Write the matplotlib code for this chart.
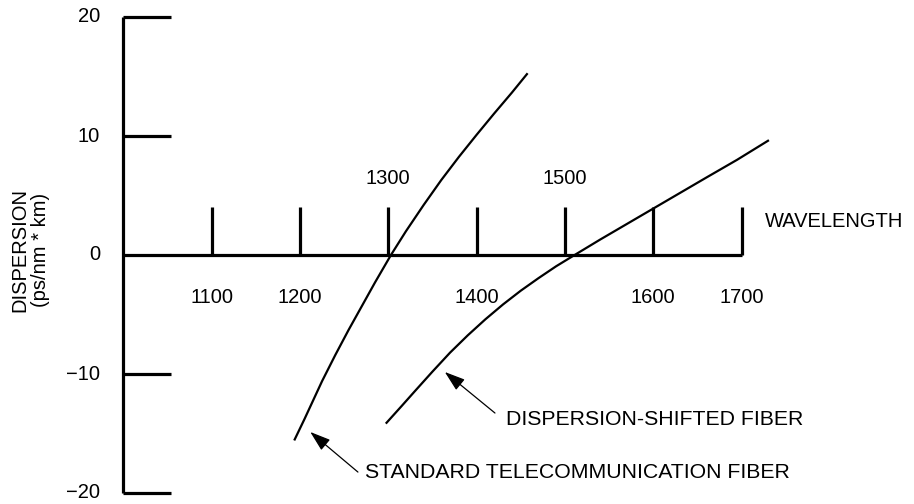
import matplotlib
matplotlib.use("Agg")
import matplotlib.pyplot as plt

plt.rcParams['font.family'] = ['Liberation Sans', 'DejaVu Sans']

# Data
std_wl = [1194, 1205, 1215, 1225, 1240, 1255, 1270, 1285, 1303, 1320, 1340,
          1360, 1380, 1400, 1420, 1440, 1457]
std_disp = [-15.5, -13.8, -12.2, -10.6, -8.4, -6.3, -4.3, -2.3, 0.0, 2.0, 4.2,
            6.3, 8.25, 10.1, 11.9, 13.65, 15.2]
dsf_wl = [1298, 1315, 1330, 1350, 1370, 1390, 1410, 1430, 1450, 1470, 1490,
          1511, 1540, 1570, 1600, 1630, 1660, 1695, 1730]
dsf_disp = [-14.1, -12.7, -11.45, -9.8, -8.2, -6.75, -5.4, -4.15, -3.0, -1.95, -0.95,
            0.0, 1.3, 2.6, 3.9, 5.2, 6.5, 8.0, 9.6]
x_ticks = [1100, 1200, 1300, 1400, 1500, 1600, 1700]
x_tick_labels = ['1100', '1200', '1300', '1400', '1500', '1600', '1700']
x_label_above = [False, False, True, False, True, False, False]
y_ticks = [-20, -10, 0, 10, 20]
y_tick_labels = ['\u221220', '\u221210', '0', '10', '20']

fig = plt.figure(figsize=(9.14, 5.04), dpi=100)
ax = fig.add_axes([0, 0, 1, 1])
px_x = 0.883   # px per nm
px_y = 11.9    # px per unit
x0 = 1000 - 123.4 / px_x
x1 = 1000 + (914 - 123.4) / px_x
y0 = (255 - 504) / px_y
y1 = 255 / px_y
ax.set_xlim(x0, x1)
ax.set_ylim(y0, y1)
ax.axis('off')

fs = 14.5
fs_ann = 15.3
axis_lw = 2.3
# vertical axis
ax.plot([1000, 1000], [-20, 20], color='black', lw=axis_lw, solid_capstyle='butt')
# horizontal axis
ax.plot([1000, 1700], [0, 0], color='black', lw=axis_lw, solid_capstyle='butt')
# y ticks
ytick_len = 48 / px_x
for yv, lab in zip(y_ticks, y_tick_labels):
    if yv != 0:
        ax.plot([1000, 1000 + ytick_len], [yv, yv], color='black', lw=axis_lw,
                solid_capstyle='butt')
    ax.text(1000 - 23.4 / px_x, yv, lab, ha='right', va='center', fontsize=fs)
# x ticks
for xv, lab, above in zip(x_ticks, x_tick_labels, x_label_above):
    ax.plot([xv, xv], [0, 4], color='black', lw=axis_lw, solid_capstyle='butt')
    ax.text(xv, 6.4 if above else -3.6, lab, ha='center', va='center', fontsize=fs)

ax.text(1000 + (765 - 123.4) / px_x, 2.8, 'WAVELENGTH', ha='left', va='center', fontsize=fs)

# y label
ax.text(1000 - 103.4 / px_x, 0.42, 'DISPERSION', rotation=90, ha='center', va='center', fontsize=fs)
ax.text(1000 - 83.4 / px_x, 0.42, '(ps/nm * km)', rotation=90, ha='center', va='center', fontsize=fs)

# curves
ax.plot(std_wl, std_disp, color='black', lw=1.6, solid_joinstyle='round')
ax.plot(dsf_wl, dsf_disp, color='black', lw=1.6, solid_joinstyle='round')

# annotations
arrow_kw = dict(arrowstyle='-|>,head_length=0.9,head_width=0.3', color='black', lw=0.9,
                shrinkA=0, shrinkB=0, mutation_scale=14)
ax.annotate('', xy=(1211.6, -14.87), xytext=(1265.6, -18.24), arrowprops=arrow_kw)
ax.text(1274, -18.3, 'STANDARD TELECOMMUNICATION FIBER', ha='left', va='center', fontsize=fs_ann)
ax.annotate('', xy=(1364, -9.83), xytext=(1420.8, -13.28), arrowprops=arrow_kw)
ax.text(1433, -13.8, 'DISPERSION-SHIFTED FIBER', ha='left', va='center', fontsize=fs_ann)

fig.savefig('out.png', dpi=100)
